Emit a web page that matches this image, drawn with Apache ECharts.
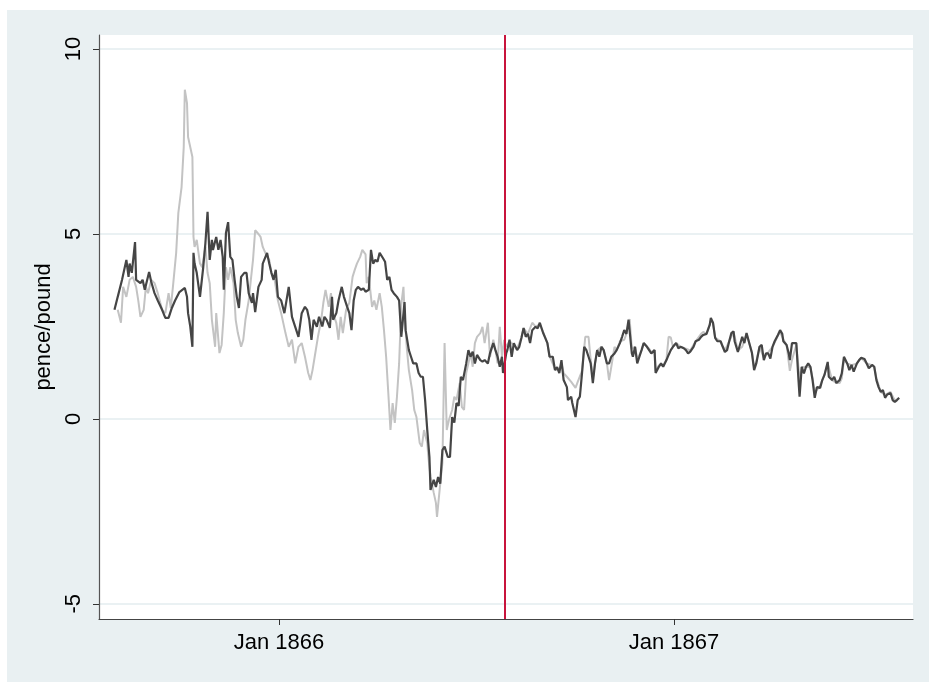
<!DOCTYPE html>
<html><head><meta charset="utf-8">
<script src="https://cdn.jsdelivr.net/npm/echarts@6/dist/echarts.min.js"></script>
<style>html,body{margin:0;padding:0;background:#fff}#c{width:929px;height:682px}</style>
</head><body><div id="c"></div>
<script>
// days since 1 Jan 1866
const darkDay = [-152,-149,-145,-141,-139,-138,-136,-133,-132,-128,-126,-124,-120,-118,-115,-112,-108,-105,-102,-99,-96,-92,-87,-85,-84,-82,-80,-79,-78,-76,-73,-70,-68,-66,-64,-62,-61,-58,-56,-54,-52,-51,-49,-47,-45,-43,-41,-39,-37,-35,-32,-30,-28,-25,-24,-22,-19,-16,-15,-11,-9,-7,-5,-3,-1,2,5,9,12,15,18,21,24,26,28,30,32,35,37,40,42,44,47,49,50,53,55,58,60,63,65,67,69,71,73,76,78,80,83,85,87,89,91,93,96,98,100,102,104,106,109,111,113,116,117,120,122,124,127,129,131,133,135,137,139,140,143,145,147,149,151,153,156,158,160,162,164,166,168,170,173,175,177,179,181,183,186,188,190,193,195,198,200,202,204,206,207,210,211,213,215,217,220,222,224,226,228,230,232,234,237,239,241,244,246,248,250,253,255,257,259,261,263,266,267,270,271,274,276,278,280,282,284,286,288,290,292,294,296,298,300,303,305,307,310,312,315,317,319,321,323,324,326,327,329,331,333,335,337,340,342,344,347,348,351,353,355,358,360,362,364,367,369,371,374,376,378,380,383,385,388,390,392,395,398,399,401,403,405,408,410,412,414,416,418,420,421,424,425,428,430,432,435,437,439,441,444,446,448,450,452,454,456,458,461,463,465,466,469,471,472,474,476,478,480,481,483,485,487,489,491,493,495,497,500,502,504,507,508,511,513,515,518,520,522,525,527,529,531,534,536,538,541,543,545,548,550,552,554,556,558,560,562,565,567,569,571,573];
const darkVal = [2.95,3.3,3.76,4.3,3.84,4.2,3.95,4.78,3.76,3.67,3.76,3.49,3.97,3.7,3.4,3.2,2.95,2.73,2.73,3.0,3.2,3.43,3.54,3.3,2.86,2.5,1.95,4.49,4.2,3.95,3.3,4.1,4.75,5.6,4.3,4.84,4.57,4.92,4.57,4.84,4.38,3.49,5.03,5.32,4.38,4.3,3.76,3.3,3.0,3.84,3.95,3.95,3.4,3.14,3.4,2.89,3.57,3.76,4.2,4.49,4.2,3.95,3.76,4.03,3.3,3.2,2.86,3.57,2.76,2.49,2.22,2.86,3.03,2.95,2.68,2.14,2.68,2.49,2.76,2.5,2.76,2.68,2.46,3.3,2.68,2.86,3.2,3.57,3.3,3.03,2.86,2.4,3.2,3.49,3.57,3.49,3.53,3.44,3.49,4.57,4.2,4.3,4.25,4.49,4.35,4.25,3.76,3.84,3.49,3.4,3.3,3.2,2.22,3.16,2.4,1.86,1.68,1.5,1.5,1.24,1.14,1.14,0.51,-0.3,-1.03,-1.92,-1.65,-1.84,-1.57,-1.75,-0.84,-0.75,-1.03,-1.03,0.05,-0.1,0.43,0.35,1.14,1.05,1.5,1.86,1.68,1.82,1.5,1.73,1.59,1.55,1.59,1.5,1.78,2.05,1.86,1.68,1.41,1.68,1.24,1.78,1.86,2.14,1.68,2.05,1.86,1.95,2.19,2.46,2.22,2.3,2.05,2.4,2.49,2.45,2.6,2.33,2.19,2.05,1.68,1.68,1.32,1.4,1.24,1.59,1.05,0.86,0.51,0.6,0.43,0.05,0.51,0.6,1.24,1.95,1.86,1.68,1.5,0.97,1.5,1.86,1.68,1.95,1.86,1.5,1.5,1.68,1.77,1.86,2.05,2.22,2.4,2.3,2.68,2.73,1.78,1.68,1.95,1.5,1.68,1.86,2.05,1.95,1.86,1.77,1.86,1.24,1.41,1.5,1.41,1.59,1.73,1.86,1.95,2.05,1.91,1.95,1.91,1.86,1.77,1.82,1.95,2.1,2.14,2.22,2.27,2.3,2.54,2.73,2.6,2.19,2.1,2.1,1.95,1.81,1.86,2.1,2.32,2.37,2.1,1.81,1.86,2.22,2.05,2.32,2.0,1.78,1.32,1.5,1.95,2.0,1.59,1.77,1.77,1.63,1.95,2.1,2.27,2.4,2.3,2.1,2.0,1.77,1.59,2.05,2.05,2.05,1.05,0.6,1.41,1.23,1.41,1.5,1.41,1.05,0.57,0.86,0.84,1.05,1.19,1.54,1.14,1.05,1.14,0.97,1.05,1.23,1.68,1.5,1.32,1.46,1.28,1.5,1.59,1.65,1.62,1.5,1.37,1.46,1.41,1.05,0.86,0.73,0.78,0.57,0.66,0.7,0.51,0.46,0.51,0.57];
const lightDay = [-149,-146,-144,-141,-138,-135,-132,-130,-128,-125,-123,-121,-118,-115,-112,-108,-105,-102,-100,-98,-95,-93,-90,-88,-87,-85,-84,-82,-80,-79,-78,-76,-73,-71,-68,-66,-64,-62,-59,-58,-55,-53,-51,-49,-47,-45,-42,-40,-38,-35,-33,-31,-28,-26,-24,-22,-19,-17,-15,-11,-9,-7,-4,-1,2,6,9,12,15,18,21,24,27,29,31,33,36,39,41,43,46,48,50,53,55,57,59,62,65,68,70,72,75,77,80,81,83,86,88,90,93,95,97,99,101,103,105,107,109,111,113,115,116,118,120,123,125,127,130,132,134,137,138,140,143,145,146,149,151,153,155,157,160,162,164,167,169,171,173,175,177,179,181,183,186,188,190,193,195,198,200,202,204,206,208,210,213,217,220,224,226,230,234,237,241,244,248,250,255,259,261,263,266,270,274,276,280,283,286,288,290,292,294,298,300,303,305,307,310,312,315,319,321,323,324,326,329,331,335,337,342,344,347,348,351,355,358,360,362,364,367,371,376,380,385,390,392,395,399,401,403,408,412,416,420,424,428,432,435,437,439,441,444,448,452,456,461,463,466,469,472,474,478,480,481,483,487,491,493,495,500,504,507,511,515,518,520,522,525,529,534,538,543,548,550,552,556,560,565,569,573];
const lightVal = [2.95,2.6,3.57,3.3,3.76,3.84,3.57,3.2,2.76,2.95,3.57,3.4,3.76,3.67,3.4,2.95,2.86,3.4,3.0,3.57,4.49,5.57,6.27,7.35,8.9,8.54,7.62,7.35,7.08,4.92,4.65,4.84,4.2,4.1,4.65,3.95,3.67,2.68,1.95,2.86,1.78,2.0,2.86,4.1,3.76,4.1,3.67,2.68,2.32,1.95,2.14,2.68,3.2,3.76,4.3,5.1,5.0,4.92,4.65,4.38,4.3,3.95,3.76,3.2,2.86,2.32,1.95,2.14,1.5,1.95,2.05,1.68,1.24,1.05,1.32,1.68,2.22,2.68,3.14,3.49,3.03,3.4,2.86,2.59,2.14,2.76,2.32,2.95,3.14,3.84,4.03,4.2,4.38,4.57,4.45,3.67,3.84,3.03,3.2,2.95,3.4,3.03,2.4,1.68,0.7,-0.3,0.43,-0.11,0.6,1.5,3.1,3.57,2.86,1.95,1.32,0.78,0.24,0.05,-0.65,-0.75,-0.3,-0.65,-1.03,-1.57,-2.0,-2.27,-2.65,-1.75,-1.19,2.05,-0.3,-0.03,0.24,0.6,0.51,0.97,0.32,0.24,1.24,1.5,1.78,1.41,2.05,2.22,2.32,2.49,2.05,2.6,1.68,2.14,1.86,1.5,2.49,1.68,2.14,1.95,2.1,2.0,1.9,2.2,2.45,2.3,2.6,2.5,2.55,2.35,2.05,1.7,1.35,1.3,1.5,1.24,1.14,1.0,0.84,1.0,1.3,2.22,2.22,1.6,1.1,1.5,1.85,1.95,1.86,1.5,1.05,1.4,1.95,1.86,2.1,2.14,2.3,2.6,2.7,1.9,1.95,1.6,1.86,2.05,1.9,1.8,1.86,1.3,1.45,1.45,1.6,2.22,2.2,1.95,2.05,1.95,1.9,1.85,2.1,2.3,2.35,2.3,2.65,2.6,2.2,2.1,1.85,2.1,2.35,1.85,1.95,2.3,2.0,1.8,1.4,1.55,1.95,1.65,1.8,1.95,2.25,2.35,2.15,2.0,1.3,1.6,2.0,1.4,1.05,1.4,1.41,1.4,1.1,0.7,0.9,1.2,1.5,1.05,0.97,0.97,1.1,1.6,1.5,1.45,1.5,1.65,1.5,1.45,1.4,1.1,0.73,0.65,0.73,0.5,0.55];
const eventDay = 209;
const xTickDays = [0, 365];
const xTickLabels = ['Jan 1866', 'Jan 1867'];
const yTicks = [-5, 0, 5, 10];
const yTitle = 'pence/pound';

const zip = (ds, vs) => ds.map((d, i) => [d, vs[i]]);
const FONT = "'Liberation Sans', Arial, sans-serif";
const BG = '#e9f0f2';

const chart = echarts.init(document.getElementById('c'), null, {renderer: 'canvas'});
chart.setOption({
  animation: false,
  backgroundColor: '#ffffff',
  textStyle: {fontFamily: FONT},
  graphic: [{type: 'rect', z: -10, silent: true, shape: {x: 7, y: 10, width: 922, height: 672}, style: {fill: BG}}],
  grid: {left: 99, right: 16, top: 35, bottom: 63, show: true, backgroundColor: '#ffffff', borderWidth: 0},
  xAxis: {
    type: 'value',
    min: -166.3, max: 585.8,
    axisLine: {show: true, onZero: false, lineStyle: {color: '#444', width: 1.2}},
    axisTick: {show: true, length: 6, customValues: xTickDays, lineStyle: {color: '#333'}},
    axisLabel: {
      customValues: xTickDays, margin: 13, color: '#000', fontSize: 22, fontFamily: FONT,
      formatter: v => { const i = xTickDays.indexOf(Math.round(v)); return i >= 0 ? xTickLabels[i] : ''; }
    },
    splitLine: {show: false}
  },
  yAxis: {
    type: 'value', min: -5.41, max: 10.38,
    name: yTitle, nameLocation: 'middle', nameGap: 42,
    nameTextStyle: {color: '#000', fontSize: 22, fontFamily: FONT},
    axisLine: {show: true, onZero: false, lineStyle: {color: '#555', width: 1.2}},
    axisTick: {show: true, length: 6, customValues: yTicks, lineStyle: {color: '#333'}},
    axisLabel: {customValues: yTicks, rotate: 90, margin: 14, color: '#000', fontSize: 22, fontFamily: FONT},
    splitLine: {show: true, lineStyle: {color: '#e3ecef', width: 1.5}}
  },
  series: [
    {type: 'line', data: zip(lightDay, lightVal), showSymbol: false, symbol: 'none', lineStyle: {color: '#c3c3c3', width: 2}, z: 2},
    {type: 'line', data: zip(darkDay, darkVal), showSymbol: false, symbol: 'none', lineStyle: {color: '#454545', width: 2.2}, z: 3,
     markLine: {silent: true, symbol: ['none', 'none'], label: {show: false}, lineStyle: {color: '#c8143c', width: 2, type: 'solid'},
       data: [{xAxis: eventDay}]}}
  ]
});
</script></body></html>
